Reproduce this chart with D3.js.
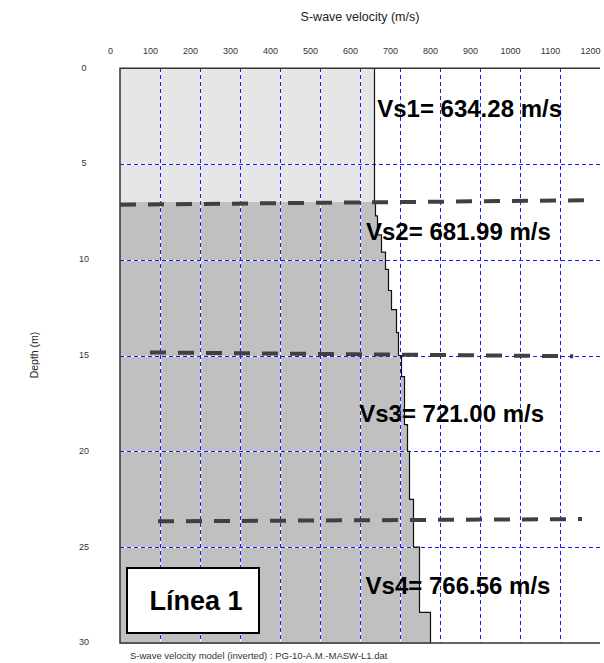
<!DOCTYPE html>
<html>
<head>
<meta charset="utf-8">
<script src="https://cdn.jsdelivr.net/npm/d3@7"></script>
<style>
  html, body { margin: 0; padding: 0; background: #fff; }
  svg { display: block; font-family: "Liberation Sans", Arial, sans-serif; }
</style>
</head>
<body>
<svg id="chart" width="604" height="663"></svg>
<script>
// ---------------- data ----------------
const velocityTicks = [0, 100, 200, 300, 400, 500, 600, 700, 800, 900, 1000, 1100, 1200];
const depthTicks = [0, 5, 10, 15, 20, 25, 30];
const gridVelocities = [100, 200, 300, 400, 500, 600, 700, 800, 900, 1000, 1100];
const gridDepths = [5, 10, 15, 20, 25];

// inverted layered model: top depth (m) and S-wave velocity (m/s)
const layerTop = [0, 7.0, 7.7, 8.7, 9.6, 10.5, 11.6, 12.6, 13.8, 15.0, 16.1, 18.6, 20.0, 22.5, 25.0, 28.4];
const layerVs  = [634, 637, 643, 652, 662, 669, 677, 690, 696, 702, 711, 717, 723, 733, 747, 774];
const maxDepth = 30;

// hand-drawn layer boundaries (start velocity/depth, end velocity/depth)
const boundaryStartV = [0, 75, 95];
const boundaryStartD = [7.12, 14.83, 23.65];
const boundaryEndV = [1165, 1133, 1155];
const boundaryEndD = [6.89, 15.03, 23.53];

// annotation texts with anchor (velocity, depth)
const vsLabels = ["Vs1= 634.28 m/s", "Vs2= 681.99 m/s", "Vs3= 721.00 m/s", "Vs4= 766.56 m/s"];
const vsLabelV = [643, 615, 598, 614];
const vsLabelD = [2.54, 8.96, 18.44, 27.44];

const xTitle = "S-wave velocity (m/s)";
const yTitle = "Depth (m)";
const caption = "S-wave velocity model (inverted) : PG-10-A.M.-MASW-L1.dat";
const legendText = "Línea 1";

// ---------------- drawing ----------------
const svg = d3.select("#chart");
const x = d3.scaleLinear().domain([0, 1200]).range([120, 600]);
const y = d3.scaleLinear().domain([0, 30]).range([68.3, 643]);
const px = v => Math.round(x(v)) + 0.5;
const py = d => Math.round(y(d)) + 0.5;

const layers = layerTop.map((t, i) => ({
  top: t,
  bottom: i < layerTop.length - 1 ? layerTop[i + 1] : maxDepth,
  vs: layerVs[i],
  shallow: i === 0
}));

// fills
svg.append("g").attr("shape-rendering", "crispEdges").selectAll("rect").data(layers).join("rect")
  .attr("x", x(0))
  .attr("y", d => y(d.top))
  .attr("width", d => x(d.vs) - x(0))
  .attr("height", d => y(d.bottom) - y(d.top) + 0.5)
  .attr("fill", d => d.shallow ? "#e6e6e6" : "#c0c0c0");

// grid: white under, blue dashed over
const grid = svg.append("g").attr("shape-rendering", "crispEdges");
function vLine(g, v) { return g.append("line").attr("x1", px(v)).attr("x2", px(v)).attr("y1", y(0)).attr("y2", y(30)); }
function hLine(g, d) { return g.append("line").attr("x1", x(0)).attr("x2", x(1200)).attr("y1", py(d)).attr("y2", py(d)); }
gridVelocities.forEach(v => vLine(grid, v).attr("stroke", "#ffffff").attr("stroke-width", 1));
gridDepths.forEach(d => hLine(grid, d).attr("stroke", "#ffffff").attr("stroke-width", 1));
gridVelocities.forEach(v => vLine(grid, v).attr("stroke", "#1a1aff").attr("stroke-width", 1).attr("stroke-dasharray", "4,3"));
gridDepths.forEach(d => hLine(grid, d).attr("stroke", "#1a1aff").attr("stroke-width", 1).attr("stroke-dasharray", "4,3"));

// step profile line
const pts = [];
layers.forEach(l => { pts.push([l.vs, l.top]); pts.push([l.vs, l.bottom]); });
svg.append("path")
  .attr("d", d3.line().x(p => Math.round(x(p[0])) + 0.5).y(p => y(p[1]))(pts))
  .attr("fill", "none").attr("stroke", "#111").attr("stroke-width", 1.2);

// frame (left, top, bottom)
svg.append("path")
  .attr("d", `M${x(1200)},${y(0)}H${x(0)}V${y(30)}H${x(1200)}`)
  .attr("fill", "none").attr("stroke", "#333").attr("stroke-width", 1.5);

// boundary dashed lines
svg.append("g").selectAll("line").data(boundaryStartV).join("line")
  .attr("x1", (v, i) => x(v)).attr("y1", (v, i) => y(boundaryStartD[i]))
  .attr("x2", (v, i) => x(boundaryEndV[i])).attr("y2", (v, i) => y(boundaryEndD[i]))
  .attr("stroke", "#404040").attr("stroke-width", 4).attr("stroke-dasharray", "16,12");

// Vs labels
svg.append("g").selectAll("text").data(vsLabels).join("text")
  .attr("x", (t, i) => x(vsLabelV[i])).attr("y", (t, i) => y(vsLabelD[i]))
  .attr("font-size", 24).attr("font-weight", "bold").attr("fill", "#000")
  .text(t => t);

// legend box
svg.append("rect").attr("x", 127).attr("y", 568).attr("width", 132).attr("height", 65)
  .attr("fill", "#fff").attr("stroke", "#000").attr("stroke-width", 2);
svg.append("text").attr("x", 196).attr("y", 610).attr("text-anchor", "middle")
  .attr("font-size", 27).attr("font-weight", "bold").text(legendText);

// top axis labels
const xAxis = svg.append("g").attr("transform", "translate(-10,54)")
  .call(d3.axisTop(x).tickValues(velocityTicks).tickSize(0).tickPadding(0).tickFormat(d3.format("d")));
xAxis.select(".domain").remove();
xAxis.selectAll("text").attr("font-size", 9).attr("fill", "#333").attr("font-family", "Liberation Sans, Arial, sans-serif");

// left axis labels
const yAxis = svg.append("g").attr("transform", "translate(84,-1)")
  .call(d3.axisLeft(y).tickValues(depthTicks).tickSize(0).tickPadding(0));
yAxis.select(".domain").remove();
yAxis.selectAll("text").attr("x", 0).attr("text-anchor", "middle").attr("font-size", 9)
  .attr("fill", "#333").attr("font-family", "Liberation Sans, Arial, sans-serif");

// titles
svg.append("text").attr("x", 360).attr("y", 21).attr("text-anchor", "middle")
  .attr("font-size", 12.5).attr("fill", "#222").text(xTitle);
svg.append("text").attr("transform", "translate(38,355) rotate(-90)").attr("text-anchor", "middle")
  .attr("font-size", 10.5).attr("fill", "#222").text(yTitle);
svg.append("text").attr("x", 130).attr("y", 659).attr("font-size", 9.5).attr("fill", "#333").text(caption);
</script>
</body>
</html>
